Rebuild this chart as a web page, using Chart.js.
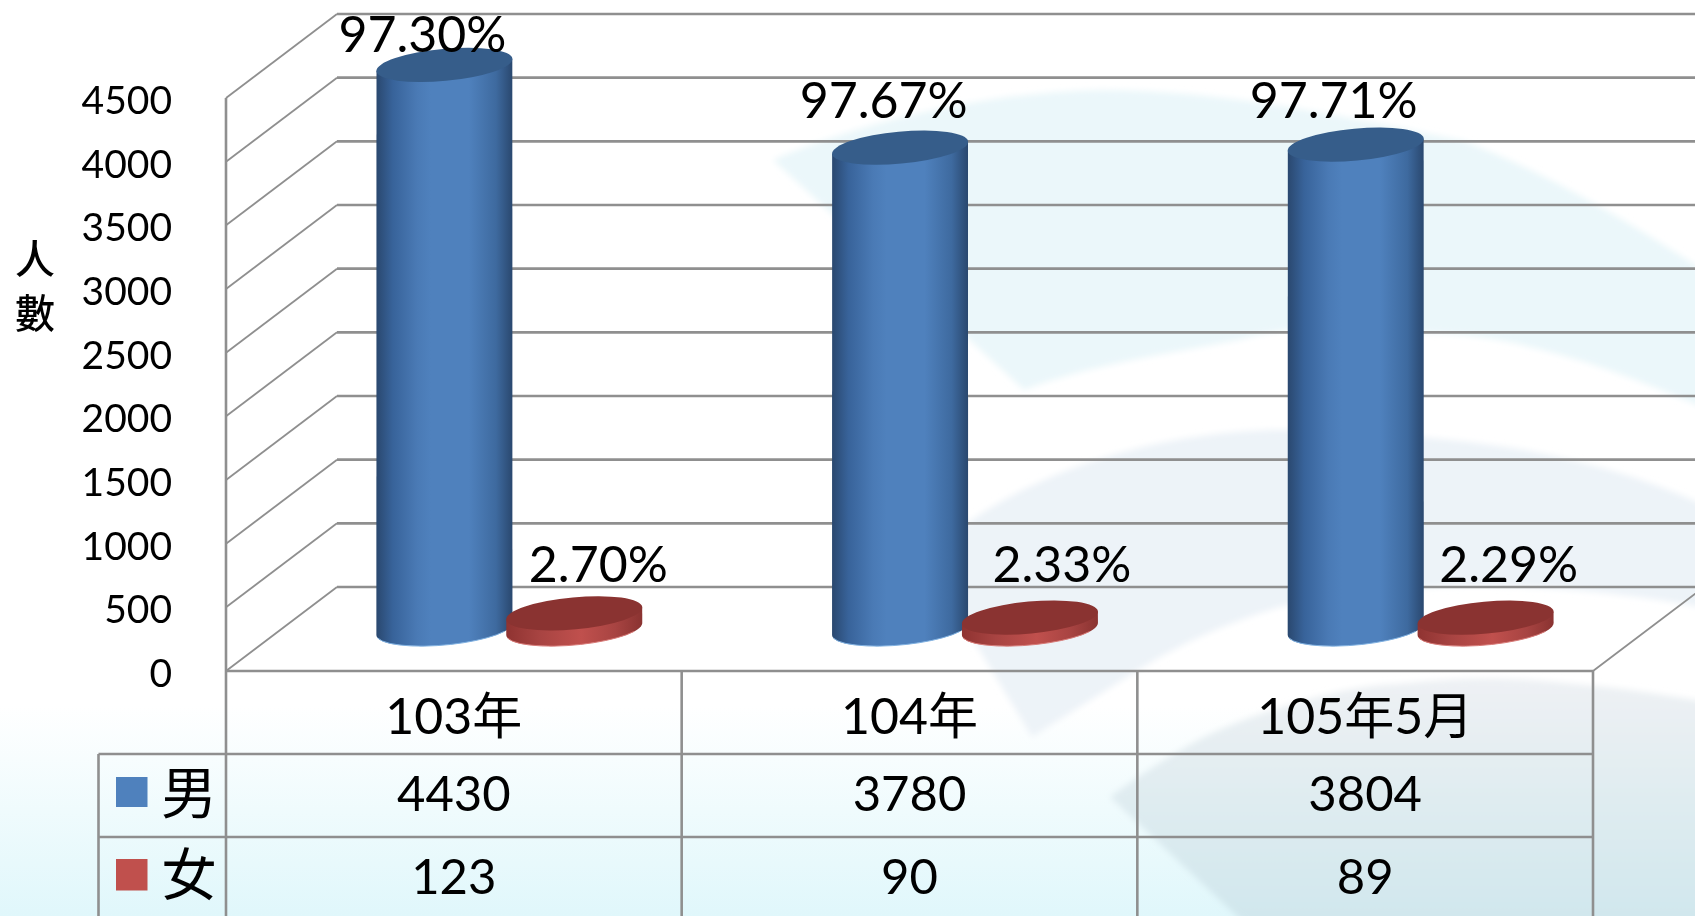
<!DOCTYPE html>
<html>
<head>
<meta charset="utf-8">
<style>
html,body{margin:0;padding:0;width:1695px;height:916px;overflow:hidden;background:#fff}
#bg{position:absolute;left:0;top:0}
#wrap{position:absolute;left:0;top:0;width:1695px;height:916px}
</style>
<script src="https://cdn.jsdelivr.net/npm/chart.js@4"></script>
</head>
<body>
<svg id="bg" width="1695" height="916" viewBox="0 0 1695 916">
  <defs>
    <linearGradient id="page" x1="0" y1="0" x2="0" y2="1">
      <stop offset="0" stop-color="#ffffff"/>
      <stop offset="0.77" stop-color="#ffffff"/>
      <stop offset="1" stop-color="#e0f7fb"/>
    </linearGradient>
    <linearGradient id="mark3" x1="0" y1="680" x2="0" y2="916" gradientUnits="userSpaceOnUse">
      <stop offset="0" stop-color="#eef1f4"/>
      <stop offset="1" stop-color="#d1e7ed"/>
    </linearGradient>
    <filter id="soft" x="-5%" y="-5%" width="110%" height="110%"><feGaussianBlur stdDeviation="3"/></filter>
  </defs>
  <rect width="1695" height="916" fill="url(#page)"/>
  <g filter="url(#soft)">
  <path d="M773 160 C 880 115 1000 92 1100 90 C 1250 90 1400 130 1461 140 C 1540 170 1620 215 1715 278 L1715 413 C 1620 370 1520 335 1430 333 C 1340 325 1290 325 1239 340 C 1160 355 1090 365 1024 390 Z" fill="#ebf7fa"/>
  <path d="M925 560 C 960 520 1030 480 1106 457 C 1170 438 1220 432 1271 430 C 1360 430 1450 438 1525 450 C 1600 465 1650 480 1715 510 L1715 610 C 1620 590 1500 582 1422 588 C 1370 590 1320 597 1280 607 C 1220 625 1180 645 1143 667 L1032 737 Z" fill="#edf3f8"/>
  <path d="M1110 797 C 1140 775 1170 755 1204 737 C 1240 720 1270 710 1306 700 C 1340 690 1370 685 1407 683 C 1450 678 1490 677 1534 680 C 1590 685 1645 690 1715 704 L1715 936 L1258 936 Z" fill="url(#mark3)"/>
  </g>
</svg>
<div id="wrap"><canvas id="c" width="1695" height="916"></canvas></div>
<script>
const categories = ['103年', '104年', '105年5月'];
const maleValues = [4430, 3780, 3804];
const femaleValues = [123, 90, 89];
const malePercent = ['97.30%', '97.67%', '97.71%'];
const femalePercent = ['2.70%', '2.33%', '2.29%'];
const seriesNames = ['男', '女'];
const axisTitle = ['人', '數'];

const maleLabelShift = [[-22, -29], [-16.5, -46], [-22, -43]];
const femaleLabelShift = [[24, -47], [32, -52], [23, -52]];

const BLUE = '#4f81bd', RED = '#c0504d';
const FONT = 'Lato, "Noto Sans CJK TC", sans-serif';
const CJK = '"Noto Sans CJK TC", Lato, sans-serif';
const DEPTH_X = 55.5, DEPTH_Y = 42;
const LINE = '#8f8f8f';
const TILT = 5.29 * Math.PI / 180, RA = 68.3, RB = 16;

const shades = {
  [BLUE]: { top: '#365d8a', rim: '#7fb0e0',
            stops: [[0, '#2a486f'], [0.12, '#38639a'], [0.3, '#4a7ab5'], [0.4, '#4f81bd'], [0.68, '#4f81bd'], [0.88, '#3e6a9f'], [1, '#2a486f']] },
  [RED]:  { top: '#8a3331', rim: '#d77a77',
            stops: [[0, '#8f3331'], [0.25, '#a84442'], [0.55, '#c0504d'], [0.8, '#a84442'], [1, '#8a3331']] }
};

// Cylinders: the library's bar rectangles, shown as tilted cylinders standing mid-depth.
Chart.BarElement.prototype.draw = function (ctx) {
  const s = shades[this.options.backgroundColor];
  const cx = this.x + DEPTH_X, top = this.y - DEPTH_Y, base = this.base - DEPTH_Y;
  const half = this.width / 2;
  const t0 = Math.atan((RB / RA) * Math.tan(TILT));
  const dy = (RA * RA - RB * RB) * Math.sin(TILT) * Math.cos(TILT) / half;
  ctx.save();
  const g = ctx.createLinearGradient(cx - half, 0, cx + half, 0);
  s.stops.forEach(p => g.addColorStop(p[0], p[1]));
  ctx.beginPath();
  ctx.ellipse(cx, base, RA, RB, -TILT, t0, t0 + Math.PI);
  ctx.lineTo(cx - half, top + dy);
  ctx.lineTo(cx + half, top - dy);
  ctx.closePath();
  ctx.fillStyle = g;
  ctx.fill();
  ctx.beginPath();
  ctx.ellipse(cx, base, RA, RB, -TILT, t0 + 0.5, t0 + Math.PI - 0.2);
  ctx.strokeStyle = s.rim;
  ctx.lineWidth = 1;
  ctx.stroke();
  ctx.beginPath();
  ctx.ellipse(cx, top, RA, RB, -TILT, 0, Math.PI * 2);
  ctx.fillStyle = s.top;
  ctx.fill();
  ctx.restore();
};

const wallPlugin = {
  id: 'wall',
  beforeDatasetsDraw(chart) {
    const { ctx, scales: { x, y } } = chart;
    const left = x.left, right = x.right;
    ctx.save();
    ctx.strokeStyle = LINE;
    y.ticks.forEach(t => {
      const py = y.getPixelForValue(t.value);
      ctx.lineWidth = 1.8;
      ctx.beginPath();
      ctx.moveTo(left, py);
      ctx.lineTo(left + 2 * DEPTH_X, py - 2 * DEPTH_Y);
      if (t.value === 0) { ctx.moveTo(right, py); ctx.lineTo(right + 2 * DEPTH_X, py - 2 * DEPTH_Y); }
      ctx.stroke();
      ctx.lineWidth = 2.6;
      ctx.beginPath();
      ctx.moveTo(left + 2 * DEPTH_X, py - 2 * DEPTH_Y);
      ctx.lineTo(right + 2 * DEPTH_X, py - 2 * DEPTH_Y);
      ctx.stroke();
    });
    ctx.restore();
  },
  // female discs overlap the male cylinders, so they are painted after them
  beforeDatasetDraw(chart, args) {
    if (args.index === 1) return false;
  },
  afterDatasetsDraw(chart) {
    chart.getDatasetMeta(1).controller.draw();
    const { ctx, scales: { x, y } } = chart;
    const left = x.left, right = x.right, bottom = chart.height;
    const y0 = y.getPixelForValue(0), yTop = y.getPixelForValue(4500);
    const row1 = 754, row2 = 837, keyLeft = 98.5;
    ctx.save();
    ctx.strokeStyle = LINE;
    ctx.lineWidth = 2.6;
    const seg = (a, b, c, d) => { ctx.beginPath(); ctx.moveTo(a, b); ctx.lineTo(c, d); ctx.stroke(); };
    seg(left, y0, right, y0);
    seg(left, yTop, left, bottom);
    const step = (right - left) / categories.length;
    for (let i = 1; i <= categories.length; i++) seg(left + step * i, y0, left + step * i, bottom);
    seg(keyLeft, row1, right, row1);
    seg(keyLeft, row2, right, row2);
    seg(keyLeft, row1, keyLeft, bottom);

    // bar value labels
    ctx.fillStyle = '#000';
    ctx.textAlign = 'center';
    ctx.textBaseline = 'middle';
    ctx.font = '50px ' + FONT;
    const metaM = chart.getDatasetMeta(0), metaF = chart.getDatasetMeta(1);
    malePercent.forEach((txt, i) => {
      const el = metaM.data[i];
      ctx.fillText(txt, el.x + DEPTH_X + maleLabelShift[i][0], el.y - DEPTH_Y + maleLabelShift[i][1]);
    });
    femalePercent.forEach((txt, i) => {
      const el = metaF.data[i];
      ctx.fillText(txt, el.x + DEPTH_X + femaleLabelShift[i][0], el.y - DEPTH_Y + femaleLabelShift[i][1]);
    });

    // data table
    ctx.font = '49px ' + FONT;
    maleValues.forEach((v, i) => ctx.fillText(String(v), x.getPixelForValue(i), 795));
    femaleValues.forEach((v, i) => ctx.fillText(String(v), x.getPixelForValue(i), 878));
    ctx.fillStyle = BLUE; ctx.fillRect(116, 777, 31.5, 30);
    ctx.fillStyle = RED;  ctx.fillRect(116, 859, 31.5, 31.5);
    ctx.fillStyle = '#000';
    ctx.font = '56px ' + CJK;
    ctx.fillText(seriesNames[0], 189, 792);
    ctx.fillText(seriesNames[1], 189, 874);

    // axis title
    ctx.font = '500 40px ' + CJK;
    ctx.fillText(axisTitle[0], 35, 259);
    ctx.fillText(axisTitle[1], 35, 313);
    ctx.restore();
  }
};

new Chart(document.getElementById('c'), {
  type: 'bar',
  data: {
    labels: categories,
    datasets: [
      { label: seriesNames[0], data: maleValues, backgroundColor: BLUE, clip: false,
        categoryPercentage: 0.57, barPercentage: 1.046 },
      { label: seriesNames[1], data: femaleValues, backgroundColor: RED, clip: false,
        categoryPercentage: 0.57, barPercentage: 1.046 }
    ]
  },
  options: {
    responsive: false,
    animation: false,
    events: [],
    layout: { padding: { top: 98, right: 102, left: 0, bottom: 0 } },
    plugins: { legend: { display: false }, tooltip: { enabled: false }, title: { display: false } },
    scales: {
      x: {
        grid: { display: false, drawTicks: false },
        border: { display: false },
        ticks: { color: '#000', font: { family: FONT, size: 50 }, padding: 17, maxRotation: 0, autoSkip: false },
        afterFit(s) { s.height = 245; }
      },
      y: {
        min: 0, max: 4500,
        grid: { display: false, drawTicks: false },
        border: { display: false },
        ticks: { stepSize: 500, color: '#000', font: { family: FONT, size: 39 }, padding: 54, labelOffset: 3.5,
                 callback: v => String(v) },
        afterFit(s) { s.width = 226; }
      }
    }
  },
  plugins: [wallPlugin]
});
</script>
</body>
</html>
